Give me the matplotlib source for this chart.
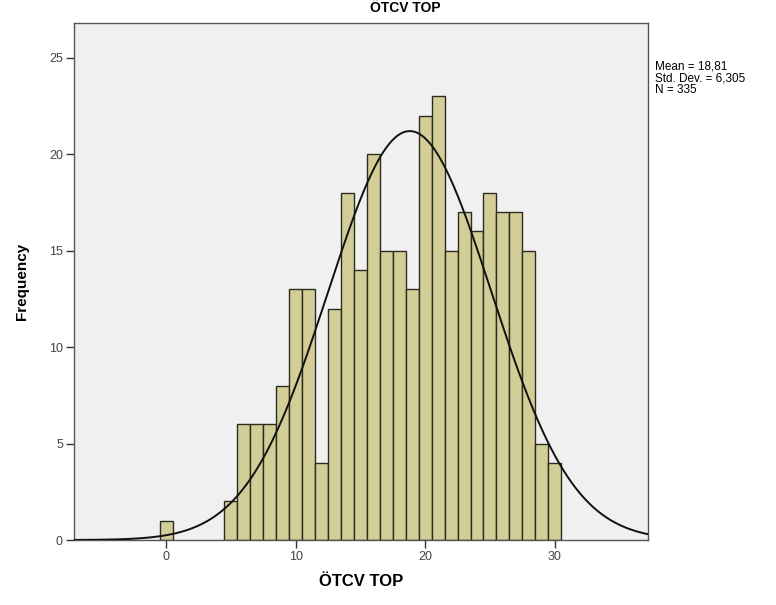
import numpy as np
import matplotlib
matplotlib.use("Agg")
import matplotlib.pyplot as plt

plt.rcParams['font.family'] = ['Liberation Sans', 'DejaVu Sans']

# histogram counts, one bin per integer score
scores = [0, 5, 6, 7, 8, 9, 10, 11, 12, 13, 14, 15, 16, 17, 18, 19, 20,
          21, 22, 23, 24, 25, 26, 27, 28, 29, 30]
counts = [1, 2, 6, 6, 6, 8, 13, 13, 4, 12, 18, 14, 20, 15, 15, 13, 22,
          23, 15, 17, 16, 18, 17, 17, 15, 5, 4]

mean = 18.81
std_dev = 6.305
n_total = 335
title = "ÖTCV TOP"

fig = plt.figure(figsize=(7.76, 6.05), dpi=100)
ax = fig.add_axes([0.0954, 0.1074, 0.7397, 0.8546])
ax.set_facecolor('#f0f0f0')

ax.bar(scores, counts, width=1.0, color='#d3ce97', edgecolor='#2b2b1f',
       linewidth=1.0, zorder=2)

# normal curve scaled to counts (bin width 1)
xs = np.linspace(-7.1, 37.2, 400)
ys = n_total / (std_dev * np.sqrt(2 * np.pi)) * np.exp(-0.5 * ((xs - mean) / std_dev) ** 2)
ax.plot(xs, ys, color='#111111', linewidth=1.4, zorder=3)

ax.set_xlim(-7.1, 37.2)
ax.set_ylim(0, 26.8)
ax.set_xticks([0, 10, 20, 30])
ax.set_yticks([0, 5, 10, 15, 20, 25])
ax.tick_params(direction='out', length=6, width=1, color='#333333',
               labelsize=9, labelcolor='#444444', pad=2)
for s in ax.spines.values():
    s.set_color('#555555')
    s.set_linewidth(1.0)

ax.set_xlabel(title, fontsize=12, fontweight='bold', labelpad=8)
ax.set_ylabel("Frequency", fontsize=11, fontweight='bold', labelpad=14)
fig.text(0.522, 0.987, title, ha='center', va='center', fontsize=10,
         fontweight='bold')

fig.text(0.844, 0.9, "Mean = 18,81\nStd. Dev. = 6,305\nN = 335",
         ha='left', va='top', fontsize=8.5, linespacing=0.95)

fig.savefig('out.png', dpi=100)
